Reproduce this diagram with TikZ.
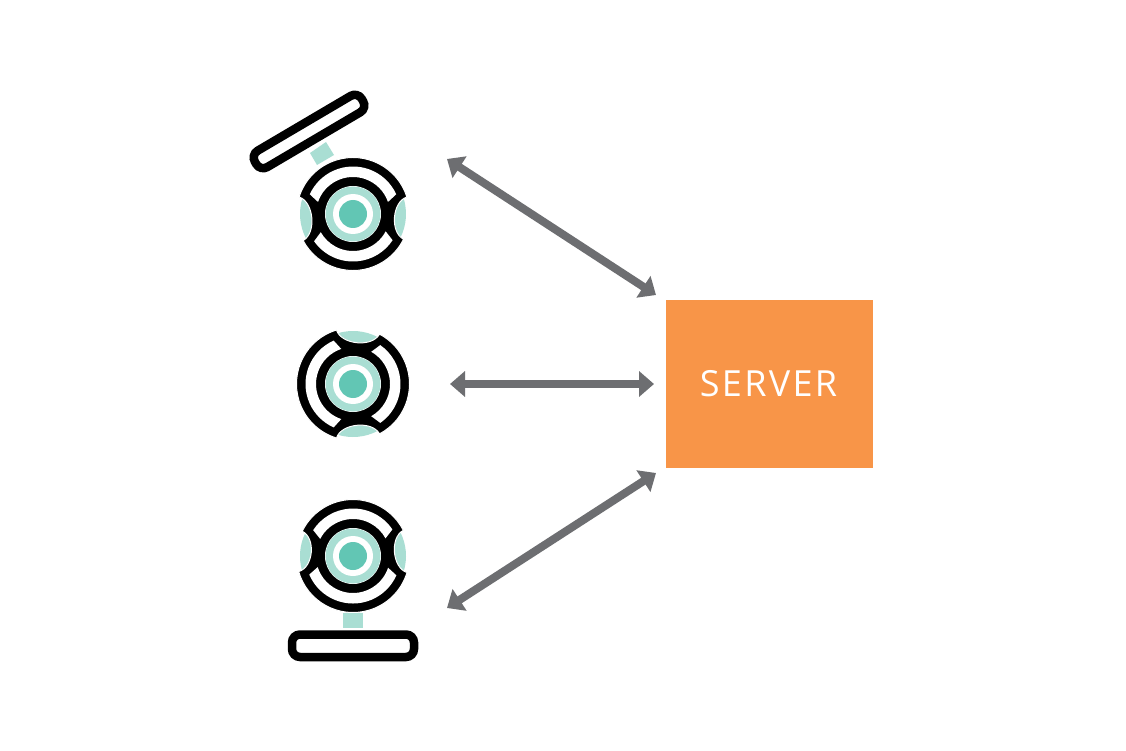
\documentclass[tikz,border=0pt]{standalone}
\usepackage{fontspec}
\setmainfont{Open Sans}
\newfontfamily\serverfont{Open Sans}[LetterSpace=6.5]
\usetikzlibrary{arrows.meta}
\definecolor{tealL}{HTML}{A9DED3}
\definecolor{tealD}{HTML}{62C6B4}
\definecolor{arrowgray}{HTML}{6D6E71}
\definecolor{serverorange}{HTML}{F89548}
\tikzset{
  silhouette/.style={fill=black,draw=white,line width=1pt},
  link/.style={draw=arrowgray,line width=8pt,{Triangle[length=15pt,width=25pt]}-{Triangle[length=15pt,width=25pt]}},
  serverbox/.style={fill=serverorange,minimum width=207pt,minimum height=168pt,inner sep=0pt,text=white,font=\serverfont\fontsize{36}{36}\selectfont},
  pill/.style={draw=black,line width=8.5pt,rounded corners=8pt},
}
% centre x, centre y, gap A start, gap A end, gap B start, gap B end (counter-clockwise angles)
\newcommand{\webcam}[6]{%
  \begin{scope}[shift={(#1,#2)},y=1pt]
    \fill[tealL] (#3:53) arc[start angle=#3,end angle=#4,radius=53] .. controls (#4:38) and (#3:38) .. cycle;
    \fill[tealL] (#5:53) arc[start angle=#5,end angle=#6,radius=53] .. controls (#6:38) and (#5:38) .. cycle;
    \path[silhouette] (#4:56.5) arc[start angle=#4,end angle=#5,radius=56.5]
      .. controls (#5:41) and (#6:41) .. (#6:56.5)
      arc[start angle=#6,end angle=360+#3,radius=56.5]
      .. controls (#3:41) and (#4:41) .. cycle;
    \fill[white] (#4+7:47.5) arc[start angle=#4+7,end angle=#5-7,radius=47.5]
      -- (#5-1.5:37) arc[start angle=#5-1.5,end angle=#4+1.5,radius=37] -- cycle;
    \fill[white] (#6+7:47.5) arc[start angle=#6+7,end angle=360+#3-7,radius=47.5]
      -- (360+#3-1.5:37) arc[start angle=360+#3-1.5,end angle=#6+1.5,radius=37] -- cycle;
    \fill[white] (0,0) circle[radius=28];
    \fill[tealL] (0,0) circle[radius=27.5];
    \fill[white] (0,0) circle[radius=20];
    \fill[tealD] (0,0) circle[radius=14];
  \end{scope}}
\begin{document}
\begin{tikzpicture}[x=1pt,y=-1pt]
  \useasboundingbox (0,0) rectangle (1126,751);
  \fill[white] (0,0) rectangle (1126,751);

  % top camera
  \fill[tealL] (310,153) -- (326,142) -- (334,155) -- (317,165) -- cycle;
  \draw[pill,rotate around={30.5:(309,131.5)}] (247,122) rectangle (371,141);
  \webcam{353}{214}{-26.5}{17.5}{162.5}{208}

  % middle camera
  \webcam{353}{384}{62}{107}{253}{298}

  % bottom camera
  \webcam{353}{556}{-17}{27}{154}{196}
  \fill[tealL] (343,613) rectangle (363,628);
  \draw[pill] (292,634.5) rectangle (414,657);

  % server
  \node[serverbox] (server) at (769.5,384) {SERVER\kern 2pt};

  % connector ends
  \coordinate (camA) at (447,159);
  \coordinate (camB) at (450,384);
  \coordinate (camC) at (447,608);
  \coordinate (srvA) at (656,295);
  \coordinate (srvB) at (654,384);
  \coordinate (srvC) at (656,473);
  \draw[link] (camA) -- (srvA);
  \draw[link] (camB) -- (srvB);
  \draw[link] (camC) -- (srvC);
\end{tikzpicture}
\end{document}
